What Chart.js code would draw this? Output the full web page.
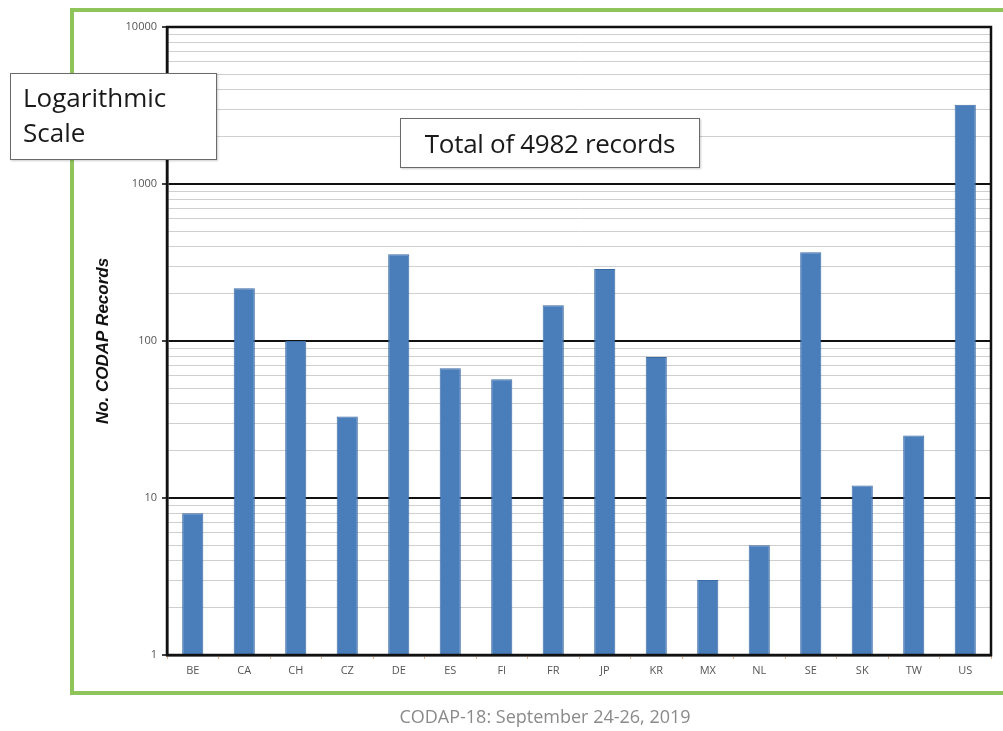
<!DOCTYPE html>
<html>
<head>
<meta charset="utf-8">
<script src="https://cdn.jsdelivr.net/npm/chart.js@4/dist/chart.umd.min.js"></script>
<style>
  html, body { margin: 0; padding: 0; background: #fff; }
  #wrap { position: relative; width: 1003px; height: 731px; overflow: hidden; }
  #frame { position: absolute; left: 70px; top: 8px; width: 1000px; height: 687px;
           border: 4px solid #8fc45a; box-sizing: border-box; }
  canvas { position: absolute; left: 0; top: 0; }
  .note { position: absolute; background: #fff; border: 1.5px solid #6a6a6a;
          font-family: "Open Sans", "Noto Sans", sans-serif; color: #1a1a1a;
          box-sizing: border-box; box-shadow: 1px 1px 2px rgba(0,0,0,0.2); }
  #logNote { left: 10px; top: 73px; width: 207px; height: 87px; font-size: 26px;
             line-height: 35px; padding: 6px 0 0 12px; }
  #totalNote { left: 400px; top: 118px; width: 300px; height: 50px; font-size: 26px;
               line-height: 48px; text-align: center; letter-spacing: -0.3px; }
  #footer { position: absolute; left: 0; width: 1090px; top: 704px; text-align: center;
            font-family: "Open Sans", "Noto Sans", sans-serif; font-size: 18px; color: #8a8a8a; }
</style>
</head>
<body>
<div id="wrap">
  <div id="frame"></div>
  <canvas id="chart" width="1003" height="731"></canvas>
  <div class="note" id="logNote">Logarithmic<br>Scale</div>
  <div class="note" id="totalNote">Total of 4982 records</div>
  <div id="footer">CODAP-18: September 24-26, 2019</div>
</div>
<script>
// Country codes and number of CODAP records per country
const countries = ['BE','CA','CH','CZ','DE','ES','FI','FR','JP','KR','MX','NL','SE','SK','TW','US'];
const records   = [8, 217, 100, 33, 357, 67, 57, 169, 287, 79, 3, 5, 367, 12, 25, 3196];
// Decade ticks that carry labels on the log axis
const decadeTicks = [1, 10, 100, 1000, 10000];
const yAxisTitle = 'No. CODAP Records';

const isDecade = v => decadeTicks.indexOf(v) !== -1;

// Black outline around the plotting area
const plotFrame = {
  id: 'plotFrame',
  afterDatasetsDraw(chart) {
    const a = chart.chartArea, ctx = chart.ctx;
    ctx.save();
    ctx.strokeStyle = '#111';
    ctx.lineWidth = 2.5;
    ctx.strokeRect(a.left, a.top, a.right - a.left, a.bottom - a.top);
    ctx.restore();
  }
};

new Chart(document.getElementById('chart'), {
  type: 'bar',
  data: {
    labels: countries,
    datasets: [{
      data: records,
      backgroundColor: '#4a7ebb',
      borderColor: '#3b6aa3',
      borderWidth: 1,
      categoryPercentage: 1.0,
      barPercentage: 0.41
    }]
  },
  options: {
    responsive: false,
    animation: false,
    layout: { padding: { left: 93, top: 27, right: 12, bottom: 44 } },
    plugins: { legend: { display: false }, tooltip: { enabled: false } },
    scales: {
      x: {
        offset: true,
        grid: { display: true, drawOnChartArea: false, offset: true, tickLength: 4, color: '#e6b08a' },
        border: { display: true, color: '#111', width: 2.5 },
        ticks: { color: '#555', font: { family: 'Open Sans', size: 11 }, padding: 5, maxRotation: 0 },
        afterFit(s) { s.height = 32; }
      },
      y: {
        type: 'logarithmic',
        min: 1,
        max: 10000,
        afterBuildTicks(s) {
          const t = [];
          for (let i = 0; i < decadeTicks.length; i++) {
            const d = decadeTicks[i];
            if (i === decadeTicks.length - 1) { t.push({ value: d }); break; }
            for (let k = 1; k <= 9; k++) t.push({ value: k * d });
          }
          s.ticks = t;
        },
        afterFit(s) { s.width = 74; },
        grid: {
          color: c => (c.tick && isDecade(c.tick.value)) ? '#111' : '#cfcfcf',
          lineWidth: c => (c.tick && isDecade(c.tick.value)) ? 2 : 1,
          tickLength: 5,
          tickColor: c => (c.tick && isDecade(c.tick.value)) ? '#444' : 'rgba(0,0,0,0)'
        },
        border: { display: true, color: '#111', width: 2.5 },
        ticks: {
          autoSkip: false,
          color: '#555',
          padding: 5,
          font: { family: 'Open Sans', size: 11 },
          callback: v => isDecade(v) ? String(v) : ''
        },
        title: {
          display: true,
          text: yAxisTitle,
          color: '#111',
          padding: { top: 0, bottom: 0 },
          font: { family: 'Liberation Sans', size: 17, weight: 'bold', style: 'italic' }
        }
      }
    }
  },
  plugins: [plotFrame]
});
</script>
</body>
</html>
